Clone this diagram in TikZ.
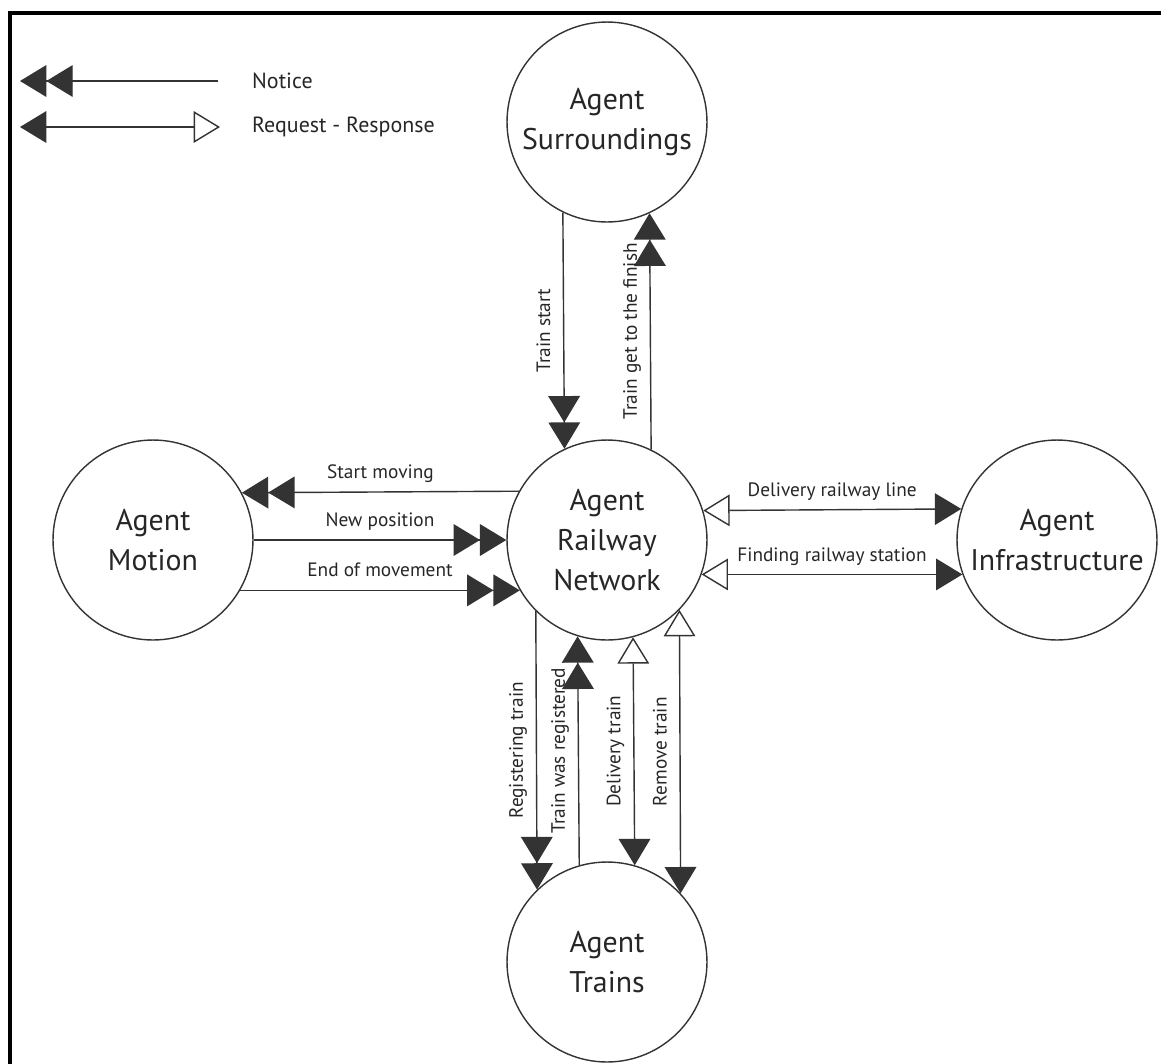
\documentclass[tikz,border=0pt]{standalone}
\usepackage{fontspec}
\setmainfont{PT Sans}
\usetikzlibrary{arrows.meta}
\tikzset{
  agent/.style={
    % The shape:
    circle,
    % The size:
    minimum size=4cm, inner sep=0pt,
    % The border:
    line width=0.8pt,
    draw=black!80,
    % The text:
    align=center, text=black!85,
    font=\fontsize{17}{23}\selectfont},
  msg/.style={
    font=\fontsize{11}{12}\selectfont, text=black!85,
    text height=1.5ex, text depth=.25ex, inner sep=6pt},
  legend/.style={
    font=\fontsize{12.5}{14}\selectfont, text=black!85},
  notice/.style={
    % Two filled heads at the target:
    line width=0.8pt, draw=black!80,
    -{Triangle[length=15pt,width=18pt]Triangle[length=15pt,width=18pt]}},
  reqres/.style={
    % Open head at the source, filled head at the target:
    line width=0.8pt, draw=black!80,
    {Triangle[open,length=15pt,width=18pt]}-{Triangle[length=15pt,width=18pt]}}
}

\begin{document}
\begin{tikzpicture}[x=0.02cm,y=-0.02cm,
                    frame/.style={line width=1.9pt,line cap=rect},
                    along/.style={midway,anchor=south,msg},
                    upward/.style={midway,rotate=90,anchor=south,msg}]
  \useasboundingbox (0,0) rectangle (1161,1063);
  \draw[frame] (1161,13) -- (10,13) -- (10,1063);

  % Legend:
  \coordinate (n1) at (218,81);  \coordinate (n2) at (20,81);
  \coordinate (r1) at (220,127); \coordinate (r2) at (20,127);
  \draw[notice] (n1) -- (n2);
  \draw[reqres] (r1) -- (r2);
  \node (notice) [legend,anchor=west] at (246,81)  {Notice};
  \node (reqres) [legend,anchor=west] at (246,127) {Request - Response};

  % The agents:
  \node (surr)  [agent] at (607,122)  {Agent\\Surroundings};
  \node (net)   [agent] at (607,540)  {Agent\\Railway\\Network};
  \node (mot)   [agent] at (153,540)  {Agent\\Motion};
  \node (infra) [agent] at (1057,540) {Agent\\Infrastructure};
  \node (trn)   [agent] at (607,962)  {Agent\\Trains};

  % Surroundings <-> network:
  \draw[notice] (surr.244.5) -- node[upward] (tstart) {Train start} (net.115.5);
  \draw[notice] (net.64.5) -- node[upward] (tfinish) {Train get to the finish} (surr.295.5);

  % Motion <-> network:
  \draw[notice] (net.151.3) -- node[along] (smove) {Start moving} (mot.28.7);
  \draw[notice] (mot.east) -- node[along] (npos) {New position} (net.west);
  \draw[notice] (mot.-30) -- node[along] (emove) {End of movement} (net.210);

  % Network <-> infrastructure:
  \draw[reqres] (net.17.5) -- node[along] (dline) {Delivery railway line} (infra.162.5);
  \draw[reqres] (net.-20.5) -- node[along] (fstat) {Finding railway station} (infra.200.5);

  % Network <-> trains:
  \draw[notice] (net.225.6) -- node[upward] (regt) {Registering train} (trn.134.4);
  \draw[notice] (trn.106.3) -- node[upward] (wasreg) {Train was registered} (net.253.7);
  \draw[reqres] (net.285.7) -- node[upward] (dtrain) {Delivery train} (trn.74.3);
  \draw[reqres] (net.316.1) -- node[upward] (rtrain) {Remove train} (trn.43.9);
\end{tikzpicture}
\end{document}
